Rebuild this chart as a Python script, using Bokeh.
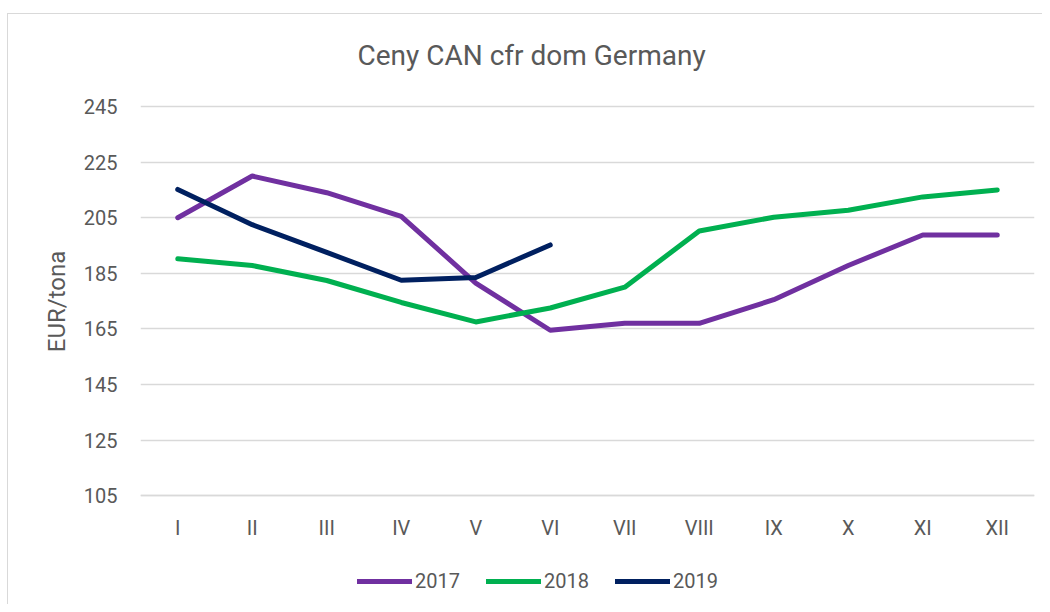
from bokeh.plotting import figure
from bokeh.models import (FactorRange, Range1d, FixedTicker, Legend, LegendItem, Label)
from bokeh.embed import file_html
from bokeh.resources import INLINE

months = ["I", "II", "III", "IV", "V", "VI", "VII", "VIII", "IX", "X", "XI", "XII"]
y2017 = [205, 220, 214, 205.5, 181.5, 164.5, 167, 167, 175.5, 187.8, 198.8, 198.8]
y2018 = [190.2, 187.8, 182.4, 174.5, 167.5, 172.5, 180, 200.2, 205.2, 207.7, 212.5, 215]
months_2019 = ["I", "II", "III", "IV", "V", "VI"]
y2019 = [215.2, 202.5, 192.5, 182.5, 183.5, 195.2]
y_ticks = [105, 125, 145, 165, 185, 205, 225, 245]

title_text = "Ceny CAN cfr dom Germany"
y_label = "EUR/tona"
series_names = ["2017", "2018", "2019"]
colors = ["#7030A0", "#00B050", "#002060"]

FONT = "Roboto"
TXT = "#595959"
GRID = "#d9d9d9"

# The frame is stretched above and below the value axis (105..245) so that the
# title and the legend sit inside it; only the ticks 105..245 get grid lines.
p = figure(x_range=FactorRange(*months, range_padding=0), y_range=Range1d(69.4, 280.3),
           width=1042, height=604, output_backend="svg", toolbar_location=None,
           min_border_left=140, min_border_right=8, min_border_top=8, min_border_bottom=10)
p.styles = {
    "background-image": f"linear-gradient({GRID}, {GRID}), linear-gradient({GRID}, {GRID})",
    "background-size": "1px 100%, 100% 1px",
    "background-position": "7px 13px, 7px 13px",
    "background-repeat": "no-repeat",
}
p.outline_line_color = None
p.background_fill_alpha = 0
p.border_fill_alpha = 0

# axes
p.yaxis.ticker = FixedTicker(ticks=y_ticks)
p.yaxis.axis_line_color = None
p.yaxis.major_tick_line_color = None
p.yaxis.minor_tick_line_color = None
p.yaxis.major_tick_out = 0
p.yaxis.major_tick_in = 0
p.yaxis.major_label_standoff = 23
p.yaxis.major_label_text_font = FONT
p.yaxis.major_label_text_font_size = "20px"
p.yaxis.major_label_text_color = TXT
p.yaxis.axis_label = y_label
p.yaxis.axis_label_text_font = FONT
p.yaxis.axis_label_text_font_size = "24px"
p.yaxis.axis_label_text_font_style = "normal"
p.yaxis.axis_label_text_color = TXT
p.yaxis.axis_label_standoff = 10

p.xaxis.fixed_location = y_ticks[0]
p.xaxis.axis_line_color = GRID
p.xaxis.axis_line_width = 1.5
p.xaxis.major_tick_line_color = None
p.xaxis.minor_tick_line_color = None
p.xaxis.major_tick_out = 0
p.xaxis.major_tick_in = 0
p.xaxis.major_label_standoff = 20
p.xaxis.major_label_text_font = FONT
p.xaxis.major_label_text_font_size = "20px"
p.xaxis.major_label_text_color = TXT

p.xgrid.grid_line_color = None
p.ygrid.grid_line_color = GRID
p.ygrid.grid_line_width = 1.5

r1 = p.line(months, y2017, line_color=colors[0], line_width=5, line_cap="round", line_join="round")
r2 = p.line(months, y2018, line_color=colors[1], line_width=5, line_cap="round", line_join="round")
r3 = p.line(months_2019, y2019, line_color=colors[2], line_width=5, line_cap="round", line_join="round")

legend = Legend(items=[LegendItem(label=series_names[0], renderers=[r1]),
                       LegendItem(label=series_names[1], renderers=[r2]),
                       LegendItem(label=series_names[2], renderers=[r3])],
                orientation="horizontal", location=(217, 1),
                glyph_width=55, glyph_height=20, label_height=20,
                label_standoff=3, spacing=26, padding=0, margin=0,
                label_text_font=FONT, label_text_font_size="20px", label_text_color=TXT,
                border_line_color=None, background_fill_alpha=0)
p.add_layout(legend, "center")

title = Label(x=217, y=539, x_units="screen", y_units="screen", text=title_text,
              text_align="left", text_baseline="alphabetic", text_font=FONT,
              text_font_size="28px", text_color=TXT)
p.add_layout(title)

open("out.html", "w").write(file_html(p, INLINE))
